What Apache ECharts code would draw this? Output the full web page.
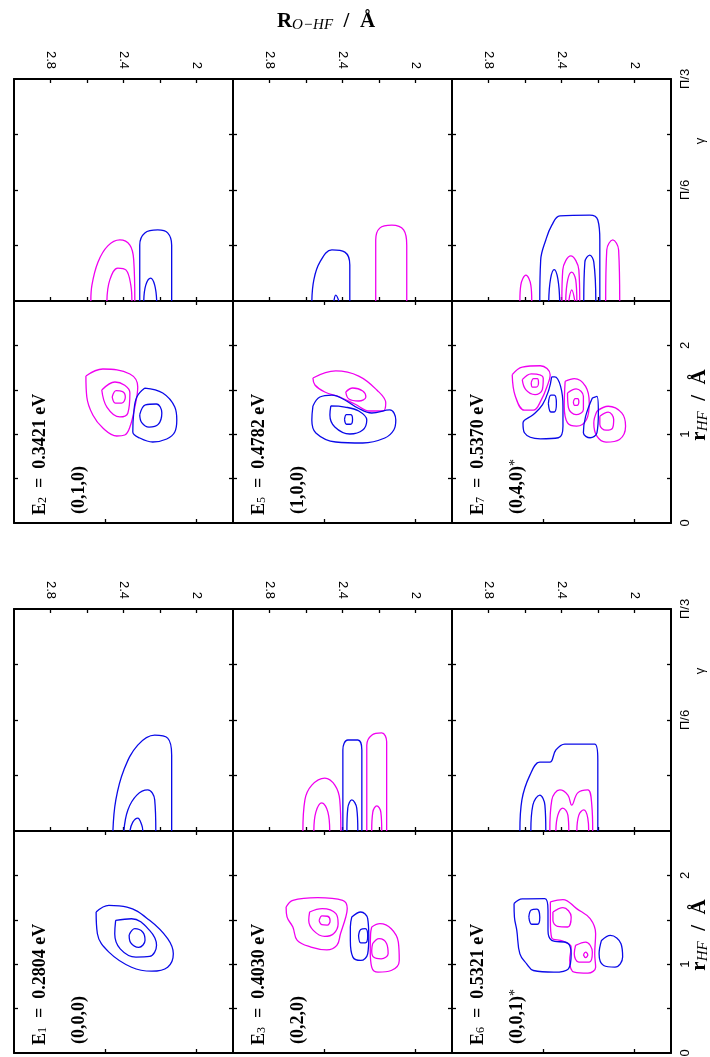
<!DOCTYPE html>
<html>
<head>
<meta charset="utf-8">
<title>vibrational states</title>
<script src="https://cdn.jsdelivr.net/npm/echarts@6/dist/echarts.min.js"></script>
<style>
html,body{margin:0;padding:0;background:#fff;}
#main{width:710px;height:1057px;}
</style>
</head>
<body>
<div id="main"></div>
<script>
// ---- axis ticks / labels ----
var bigRTicks = [2.0, 2.2, 2.4, 2.6, 2.8];
var bigRLabels = [2.0, 2.4, 2.8];
var bigRTicksCoarse = [2.0, 2.5];
var gammaTicks = [15, 30, 45];
var gammaLabels = [30, 60];
var smallRTicks = [0.5, 1, 1.5, 2];
var smallRLabels = [0, 1, 2];

// ---- states ----
var stateSub = ['2', '5', '7', '1', '3', '6'];
var stateEnergy = ['0.3421', '0.4782', '0.5370', '0.2804', '0.4030', '0.5321'];
var stateQuanta = ['(0,1,0)', '(1,0,0)', '(0,4,0)', '(0,0,0)', '(0,2,0)', '(0,0,1)'];
var stateStar = [false, false, true, false, false, true];

// ---- contours: [R_O-HF, r_HF] (closed) ----
var e2_rMag = [
    [[2.606,1.655],[2.513,1.734],[2.365,1.678],[2.322,1.532],[2.338,1.306],[2.365,1.081],[2.393,0.991],[2.437,0.980],[2.513,1.070],[2.568,1.216],[2.601,1.419]],
    [[2.519,1.498],[2.447,1.588],[2.365,1.464],[2.376,1.239],[2.420,1.194],[2.491,1.306]],
    [[2.462,1.419],[2.440,1.490],[2.405,1.480],[2.390,1.419],[2.410,1.350],[2.445,1.350]]
];
var e2_rBlue = [
    [[2.283,1.520],[2.185,1.464],[2.119,1.306],[2.108,1.160],[2.119,1.025],[2.163,0.946],[2.240,0.912],[2.311,0.957],[2.349,1.025],[2.344,1.239],[2.327,1.419]],
    [[2.311,1.220],[2.280,1.330],[2.220,1.340],[2.190,1.240],[2.210,1.110],[2.260,1.080],[2.300,1.130]]
];
var e5_rMag = [
    [[2.562,1.633],[2.437,1.712],[2.311,1.655],[2.212,1.498],[2.163,1.351],[2.179,1.261],[2.251,1.261],[2.333,1.340],[2.415,1.419],[2.497,1.475],[2.551,1.554]],
    [[2.382,1.475],[2.344,1.520],[2.289,1.486],[2.272,1.419],[2.311,1.374],[2.365,1.396]]
];
var e5_rBlue = [
    [[2.562,1.318],[2.524,1.419],[2.458,1.441],[2.387,1.385],[2.316,1.295],[2.240,1.239],[2.141,1.273],[2.108,1.160],[2.119,1.047],[2.168,0.957],[2.289,0.901],[2.437,0.912],[2.546,1.014],[2.568,1.160]],
    [[2.464,1.318],[2.387,1.306],[2.311,1.261],[2.267,1.160],[2.289,1.047],[2.360,1.002],[2.442,1.081],[2.469,1.216]],
    [[2.389,1.166],[2.378,1.220],[2.356,1.220],[2.345,1.166],[2.356,1.112],[2.378,1.112]]
];
var e7_rMag = [
    [[2.670,1.670],[2.615,1.756],[2.516,1.771],[2.462,1.670],[2.479,1.539],[2.510,1.389],[2.554,1.270],[2.603,1.270],[2.653,1.427]],
    [[2.615,1.614],[2.566,1.680],[2.500,1.633],[2.505,1.502],[2.545,1.446],[2.596,1.502]],
    [[2.566,1.577],[2.553,1.625],[2.533,1.625],[2.526,1.577],[2.539,1.530],[2.559,1.530]],
    [[2.380,1.596],[2.330,1.625],[2.268,1.539],[2.248,1.352],[2.263,1.165],[2.317,1.090],[2.367,1.127],[2.385,1.315]],
    [[2.367,1.464],[2.320,1.510],[2.280,1.427],[2.280,1.278],[2.320,1.220],[2.362,1.300]],
    [[2.335,1.363],[2.325,1.400],[2.312,1.400],[2.305,1.363],[2.315,1.325],[2.328,1.325]],
    [[2.206,1.259],[2.144,1.315],[2.070,1.240],[2.049,1.090],[2.082,0.941],[2.156,0.911],[2.206,0.978],[2.223,1.127]],
    [[2.190,1.203],[2.144,1.248],[2.114,1.165],[2.120,1.070],[2.156,1.045],[2.190,1.108]]
];
var e7_rBlue = [
    [[2.454,1.645],[2.469,1.502],[2.504,1.333],[2.554,1.221],[2.611,1.127],[2.603,1.016],[2.516,0.948],[2.417,0.960],[2.392,1.090],[2.392,1.315],[2.405,1.539],[2.437,1.645]],
    [[2.472,1.345],[2.458,1.440],[2.440,1.440],[2.428,1.345],[2.440,1.250],[2.458,1.250]],
    [[2.231,1.408],[2.206,1.427],[2.198,1.240],[2.206,1.016],[2.243,0.960],[2.280,1.016],[2.268,1.200]]
];
var e1_rMag = [];
var e1_rBlue = [
    [[2.550,1.588],[2.480,1.663],[2.381,1.644],[2.257,1.494],[2.158,1.287],[2.127,1.117],[2.158,0.966],[2.245,0.921],[2.356,0.966],[2.480,1.136],[2.543,1.343]],
    [[2.443,1.494],[2.356,1.512],[2.257,1.381],[2.219,1.212],[2.257,1.087],[2.332,1.080],[2.418,1.173],[2.448,1.343]],
    [[2.369,1.330],[2.338,1.400],[2.294,1.360],[2.282,1.270],[2.316,1.190],[2.360,1.240]]
];
var e3_rMag = [
    [[2.709,1.644],[2.672,1.720],[2.536,1.750],[2.399,1.720],[2.374,1.626],[2.382,1.532],[2.411,1.343],[2.431,1.212],[2.486,1.162],[2.573,1.193],[2.648,1.268],[2.672,1.419],[2.704,1.532]],
    [[2.580,1.588],[2.511,1.626],[2.436,1.570],[2.424,1.456],[2.449,1.343],[2.498,1.313],[2.560,1.381],[2.585,1.494]],
    [[2.528,1.490],[2.512,1.545],[2.482,1.540],[2.468,1.490],[2.484,1.440],[2.514,1.445]],
    [[2.240,1.419],[2.195,1.456],[2.133,1.400],[2.094,1.249],[2.089,1.042],[2.133,0.929],[2.205,0.910],[2.240,0.967],[2.248,1.155],[2.246,1.343]],
    [[2.235,1.231],[2.200,1.287],[2.158,1.231],[2.150,1.117],[2.188,1.061],[2.230,1.080],[2.240,1.155]]
];
var e3_rBlue = [
    [[2.349,1.532],[2.300,1.588],[2.262,1.513],[2.256,1.305],[2.262,1.117],[2.300,1.042],[2.343,1.080],[2.357,1.268],[2.357,1.419]],
    [[2.312,1.320],[2.300,1.390],[2.275,1.400],[2.262,1.320],[2.275,1.240],[2.300,1.240]]
];
var e6_rMag = [
    [[2.461,1.702],[2.392,1.728],[2.317,1.626],[2.243,1.513],[2.213,1.343],[2.218,1.117],[2.213,0.967],[2.255,0.899],[2.330,0.910],[2.355,1.042],[2.347,1.193],[2.392,1.261],[2.454,1.299],[2.461,1.494]],
    [[2.447,1.588],[2.392,1.637],[2.347,1.532],[2.367,1.419],[2.422,1.426],[2.447,1.494]],
    [[2.323,1.212],[2.268,1.249],[2.231,1.136],[2.248,1.023],[2.305,1.023],[2.330,1.117]],
    [[2.280,1.105],[2.268,1.135],[2.256,1.105],[2.268,1.075]]
];
var e6_rBlue = [
    [[2.660,1.683],[2.615,1.735],[2.491,1.739],[2.474,1.607],[2.474,1.381],[2.454,1.268],[2.367,1.238],[2.347,1.117],[2.362,0.948],[2.442,0.910],[2.554,0.929],[2.591,1.004],[2.628,1.117],[2.645,1.381],[2.658,1.532]],
    [[2.579,1.530],[2.566,1.610],[2.535,1.620],[2.519,1.530],[2.532,1.450],[2.563,1.450]],
    [[2.181,1.268],[2.132,1.324],[2.074,1.231],[2.065,1.080],[2.107,0.967],[2.169,0.985],[2.194,1.117]]
];

// ---- contours: [R_O-HF, gamma in degrees] (open, cut at gamma = 0) ----
var e2_gMag = [
    [[2.579,0],[2.573,4.3],[2.540,10.5],[2.486,14.9],[2.420,16.5],[2.365,15.1],[2.344,11.1],[2.338,0]],
    [[2.491,0],[2.475,5.7],[2.431,8.9],[2.387,8.4],[2.360,4.3],[2.354,0]]
];
var e2_gBlue = [
    [[2.311,0],[2.311,15.1],[2.283,18.4],[2.212,19.2],[2.158,18.4],[2.136,15.1],[2.136,0]],
    [[2.289,0],[2.278,4.3],[2.251,6.2],[2.229,4.3],[2.218,0]]
];
var e5_gMag = [
    [[2.218,0],[2.218,16.5],[2.196,19.7],[2.130,20.5],[2.065,19.2],[2.048,15.1],[2.048,0]]
];
var e5_gBlue = [
    [[2.568,0],[2.557,5.7],[2.524,10.5],[2.458,13.8],[2.387,13.2],[2.360,9.7],[2.360,0]],
    [[2.447,0],[2.437,1.6],[2.420,0]]
];
var e7_gMag = [
    [[2.628,0],[2.623,4.3],[2.595,7.0],[2.568,4.3],[2.563,0]],
    [[2.398,0],[2.393,8.4],[2.349,12.2],[2.305,8.4],[2.300,0]],
    [[2.377,0],[2.366,5.7],[2.344,7.8],[2.322,5.7],[2.316,0]],
    [[2.360,0],[2.344,3.0],[2.327,0]],
    [[2.158,0],[2.152,13.8],[2.119,16.5],[2.087,13.8],[2.081,0]]
];
var e7_gBlue = [
    [[2.519,0],[2.514,11.1],[2.486,16.5],[2.453,20.5],[2.409,23.0],[2.245,23.2],[2.201,21.9],[2.190,16.5],[2.190,0]],
    [[2.470,0],[2.460,6.0],[2.440,8.5],[2.420,6.0],[2.410,0]],
    [[2.278,0],[2.272,10.5],[2.245,12.4],[2.223,10.5],[2.212,0]]
];
var e1_gMag = [];
var e1_gBlue = [
    [[2.458,0],[2.442,8.4],[2.398,16.5],[2.322,23.2],[2.229,25.9],[2.158,25.1],[2.136,20.5],[2.136,0]],
    [[2.398,0],[2.376,5.7],[2.327,9.7],[2.267,11.1],[2.229,8.4],[2.223,0]],
    [[2.365,0],[2.349,2.4],[2.322,3.5],[2.300,1.6],[2.294,0]]
];
var e3_gMag = [
    [[2.617,0],[2.606,8.4],[2.568,12.4],[2.497,14.3],[2.442,12.4],[2.415,8.4],[2.409,0]],
    [[2.557,0],[2.546,5.1],[2.513,7.6],[2.480,5.1],[2.470,0]],
    [[2.267,0],[2.267,23.2],[2.240,25.9],[2.185,26.5],[2.158,24.1],[2.158,0]],
    [[2.240,0],[2.234,5.1],[2.212,6.8],[2.190,5.1],[2.185,0]]
];
var e3_gBlue = [
    [[2.398,0],[2.398,21.9],[2.371,24.6],[2.316,24.6],[2.294,21.9],[2.294,0]],
    [[2.376,0],[2.371,6.2],[2.349,8.4],[2.322,6.2],[2.316,0]]
];
var e6_gMag = [
    [[2.464,0],[2.453,8.4],[2.409,11.1],[2.365,9.7],[2.344,7.0],[2.311,10.3],[2.256,11.1],[2.234,7.0],[2.229,0]],
    [[2.431,0],[2.420,4.3],[2.393,6.2],[2.365,4.3],[2.360,0]],
    [[2.316,0],[2.305,4.3],[2.278,5.7],[2.256,3.5],[2.251,0]]
];
var e6_gBlue = [
    [[2.628,0],[2.617,8.4],[2.573,15.1],[2.519,18.6],[2.464,18.6],[2.431,21.9],[2.382,23.5],[2.218,23.5],[2.201,19.2],[2.201,0]],
    [[2.568,0],[2.557,7.0],[2.519,9.7],[2.491,7.0],[2.486,0]]
];

// ---- layout ----
var colLeft = [14, 233, 452], colW = 219, subH = 222, blockTop = [79, 609];
var MAG = '#f000f0', BLUE = '#0a0ae8';

var panels = [
    {col:0, block:0, gMag:e2_gMag, gBlue:e2_gBlue, rMag:e2_rMag, rBlue:e2_rBlue},
    {col:1, block:0, gMag:e5_gMag, gBlue:e5_gBlue, rMag:e5_rMag, rBlue:e5_rBlue},
    {col:2, block:0, gMag:e7_gMag, gBlue:e7_gBlue, rMag:e7_rMag, rBlue:e7_rBlue},
    {col:0, block:1, gMag:e1_gMag, gBlue:e1_gBlue, rMag:e1_rMag, rBlue:e1_rBlue},
    {col:1, block:1, gMag:e3_gMag, gBlue:e3_gBlue, rMag:e3_rMag, rBlue:e3_rBlue},
    {col:2, block:1, gMag:e6_gMag, gBlue:e6_gBlue, rMag:e6_rMag, rBlue:e6_rBlue}
];

var grids = [], xAxes = [], yAxes = [], series = [], graphics = [];
var labelFont = 'Liberation Sans';

function frameX(gi, pos, ticks, labels) {
    return {
        type:'value', gridIndex:gi, position:pos, min:1.8, max:3.0, inverse:true,
        axisLine:{show:true, onZero:false, lineStyle:{color:'#000', width:2}},
        axisTick:{show:true, inside:true, length:4, customValues:ticks, lineStyle:{color:'#000', width:1.3}},
        axisLabel:{show:!!labels, customValues:labels || ticks, rotate:90, margin:10, color:'#000',
            fontSize:13, fontFamily:labelFont,
            formatter:function (v) { return String(Math.round(v * 10) / 10); }},
        splitLine:{show:false}
    };
}

function frameY(gi, pos, max, ticks, labels, fmt) {
    return {
        type:'value', gridIndex:gi, position:pos, min:0, max:max,
        axisLine:{show:true, onZero:false, lineStyle:{color:'#000', width:2}},
        axisTick:{show:true, inside:true, length:4, customValues:ticks, lineStyle:{color:'#000', width:1.3}},
        axisLabel:{show:!!labels, customValues:labels || ticks, rotate:90, margin:8, color:'#000',
            fontSize:13, fontFamily:labelFont, formatter:fmt},
        splitLine:{show:false}
    };
}

function addContours(gi, list, color, closed) {
    for (var i = 0; i < list.length; i++) {
        var pts = list[i];
        series.push({
            type:'line', xAxisIndex:2 * gi, yAxisIndex:2 * gi,
            data: closed ? pts.concat([pts[0]]) : pts,
            smooth:0.4, symbol:'none', silent:true, animation:false, clip:true,
            lineStyle:{color:color, width:1.3}
        });
    }
}

function gammaFmt(v) { return v === 60 ? 'Π/3' : 'Π/6'; }
function rFmt(v) { return String(v); }

panels.forEach(function (p, k) {
    var left = colLeft[p.col], top = blockTop[p.block];
    var last = p.col === 2;
    // gamma panel
    var g = grids.length;
    grids.push({left:left, top:top, width:colW, height:subH, containLabel:false, outerBoundsMode:'none'});
    xAxes.push(frameX(g, 'bottom', bigRTicks, null));
    xAxes.push(frameX(g, 'top', bigRTicks, bigRLabels));
    yAxes.push(frameY(g, 'left', 60, gammaTicks, null, gammaFmt));
    yAxes.push(frameY(g, 'right', 60, gammaTicks, last ? gammaLabels : null, gammaFmt));
    addContours(g, p.gMag, MAG, false);
    addContours(g, p.gBlue, BLUE, false);
    // r_HF panel
    var r = grids.length;
    grids.push({left:left, top:top + subH, width:colW, height:subH, containLabel:false, outerBoundsMode:'none'});
    xAxes.push(frameX(r, 'bottom', bigRTicksCoarse, null));
    xAxes.push(frameX(r, 'top', bigRTicksCoarse, null));
    yAxes.push(frameY(r, 'left', 2.5, smallRTicks, null, rFmt));
    yAxes.push(frameY(r, 'right', 2.5, smallRTicks, last ? smallRLabels : null, rFmt));
    addContours(r, p.rMag, MAG, true);
    addContours(r, p.rBlue, BLUE, true);

    // state labels, rotated
    var base = top + 2 * subH - 8;
    graphics.push({
        type:'text', x:left + 26, y:base, rotation:Math.PI / 2, silent:true,
        style:{
            text:'{b|E}{s|' + stateSub[k] + '}{b|  =  ' + stateEnergy[k] + ' eV}',
            align:'left', verticalAlign:'middle', textAlign:'left', textVerticalAlign:'middle',
            rich:{
                b:{fontFamily:'Liberation Serif', fontWeight:'bold', fontSize:18, fill:'#000'},
                s:{fontFamily:'Liberation Serif', fontSize:12, fill:'#000', verticalAlign:'bottom'}
            }
        }
    });
    graphics.push({
        type:'text', x:left + 65, y:base - 1, rotation:Math.PI / 2, silent:true,
        style:{
            text:'{b|' + stateQuanta[k] + '}' + (stateStar[k] ? '{u|*}' : ''),
            align:'left', verticalAlign:'middle', textAlign:'left', textVerticalAlign:'middle',
            rich:{
                b:{fontFamily:'Liberation Serif', fontWeight:'bold', fontSize:18, fill:'#000'},
                u:{fontFamily:'Liberation Serif', fontSize:14, fill:'#000', verticalAlign:'top'}
            }
        }
    });
});

// axis titles
var titleRich = {
    b:{fontFamily:'Liberation Serif', fontWeight:'bold', fontSize:21, fill:'#000'},
    i:{fontFamily:'Liberation Serif', fontStyle:'italic', fontSize:15, fill:'#000', verticalAlign:'bottom'}
};
graphics.push({
    type:'text', x:326, y:22, silent:true,
    style:{text:'{b|R}{i|O−HF}{b|  /  Å}', align:'center', verticalAlign:'middle',
        textAlign:'center', textVerticalAlign:'middle', rich:titleRich}
});
blockTop.forEach(function (top) {
    graphics.push({
        type:'text', x:700, y:top + subH + 104, rotation:Math.PI / 2, silent:true,
        style:{text:'{b|r}{i|HF}{b|  /  Å}', align:'center', verticalAlign:'middle',
            textAlign:'center', textVerticalAlign:'middle', rich:titleRich}
    });
    graphics.push({
        type:'text', x:700, y:top + 62, rotation:Math.PI / 2, silent:true,
        style:{text:'γ', align:'center', verticalAlign:'middle', textAlign:'center', textVerticalAlign:'middle',
            fontFamily:labelFont, fontSize:13, fill:'#000'}
    });
});

var chart = echarts.init(document.getElementById('main'));
chart.setOption({
    animation:false,
    backgroundColor:'#fff',
    grid:grids,
    xAxis:xAxes,
    yAxis:yAxes,
    series:series,
    graphic:graphics
});
</script>
</body>
</html>
